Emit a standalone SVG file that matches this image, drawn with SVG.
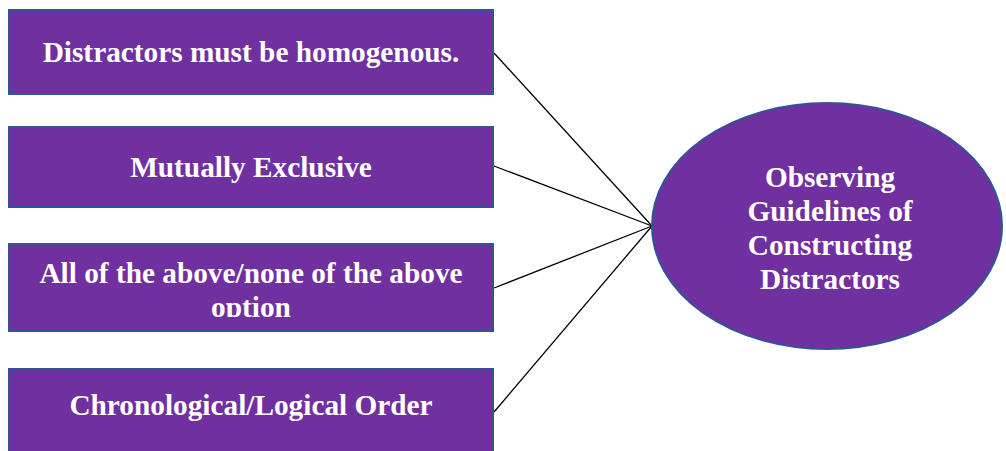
<svg xmlns="http://www.w3.org/2000/svg" width="1006" height="451" viewBox="0 0 1006 451">
<style>
.box{fill:#7030A0;stroke:#2F5597;stroke-width:2}
.t{font-family:"Liberation Serif","Times New Roman",serif;font-weight:bold;font-size:29.3px;fill:#FFFFFF;text-anchor:middle}
.c{stroke:#000;stroke-width:1.3;fill:none}
</style>
<defs>
<clipPath id="clip3"><rect x="9" y="245" width="484" height="72"/></clipPath>
</defs>
<rect width="1006" height="451" fill="#fff"/>
<g id="connectors">
<line class="c" x1="494" y1="53" x2="652" y2="226"/>
<line class="c" x1="494" y1="166" x2="652" y2="226"/>
<line class="c" x1="494" y1="288" x2="652" y2="226"/>
<line class="c" x1="494" y1="412" x2="652" y2="226"/>
</g>
<g id="n1">
<rect class="box" x="9" y="10" width="484" height="84"/>
<text class="t" x="251" y="62">Distractors must be homogenous.</text>
</g>
<g id="n2">
<rect class="box" x="9" y="127" width="484" height="80"/>
<text class="t" x="251" y="177">Mutually Exclusive</text>
</g>
<g id="n3">
<rect class="box" x="9" y="244" width="484" height="87"/>
<g clip-path="url(#clip3)">
<text class="t" x="251" y="283">All of the above/none of the above</text>
<text class="t" x="251" y="317">option</text>
</g>
</g>
<g id="n4">
<rect class="box" x="9" y="369" width="484" height="90"/>
<text class="t" x="251" y="415">Chronological/Logical Order</text>
</g>
<g id="center">
<ellipse class="box" cx="827" cy="226" rx="175" ry="123"/>
<text class="t" x="830" y="187">Observing</text>
<text class="t" x="830" y="221">Guidelines of</text>
<text class="t" x="830" y="255">Constructing</text>
<text class="t" x="830" y="289">Distractors</text>
</g>
</svg>
